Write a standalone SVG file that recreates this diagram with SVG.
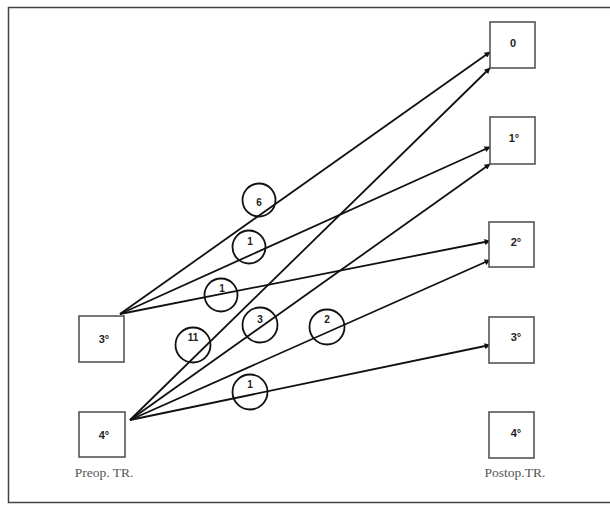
<svg xmlns="http://www.w3.org/2000/svg" width="610" height="512" viewBox="0 0 610 512">
<style>
.box{fill:#fff;stroke:#555;stroke-width:1.6}
.lbl{font-family:"Liberation Sans",Arial,sans-serif;font-size:11px;font-weight:bold;fill:#222;text-anchor:middle}
.cap{font-family:"Liberation Serif","Times New Roman",serif;font-size:13.5px;fill:#555;text-anchor:middle}
.edge{stroke:#111;stroke-width:1.8;fill:none;marker-end:url(#ah)}
.c{fill:none;stroke:#111;stroke-width:1.8}
.cl{font-family:"Liberation Sans",Arial,sans-serif;font-size:10px;font-weight:bold;fill:#222;text-anchor:middle}
</style>
<defs>
<marker id="ah" viewBox="0 0 10 10" refX="9" refY="5" markerWidth="8" markerHeight="6" orient="auto" markerUnits="userSpaceOnUse">
<path d="M0,0 L10,5 L0,10 z" fill="#111"/>
</marker>
</defs>
<rect width="610" height="512" fill="#fff"/>
<path d="M614,7.5 H8.5 V502.5 H614" fill="none" stroke="#444" stroke-width="1.5"/>
<g id="connectors">
<line class="edge" x1="120" y1="314" x2="490" y2="52"/>
<line class="edge" x1="120" y1="314" x2="490" y2="147"/>
<line class="edge" x1="120" y1="314" x2="490" y2="241"/>
<line class="edge" x1="130" y1="420" x2="490" y2="68"/>
<line class="edge" x1="130" y1="420" x2="490" y2="164"/>
<line class="edge" x1="130" y1="420" x2="490" y2="260"/>
<line class="edge" x1="130" y1="420" x2="490" y2="345"/>
<g id="counts">
<circle class="c" cx="259" cy="200" r="16.5"/><text class="cl" x="259" y="206">6</text>
<circle class="c" cx="249" cy="247" r="16.5"/><text class="cl" x="250" y="245">1</text>
<circle class="c" cx="221" cy="295" r="16.5"/><text class="cl" x="222" y="292">1</text>
<circle class="c" cx="193" cy="345" r="17.5"/><text class="cl" x="193" y="341">11</text>
<circle class="c" cx="260" cy="325" r="17.5"/><text class="cl" x="260" y="323">3</text>
<circle class="c" cx="327" cy="327" r="17.5"/><text class="cl" x="327" y="323">2</text>
<circle class="c" cx="250" cy="392" r="17.5"/><text class="cl" x="250" y="388">1</text>
</g>
</g>
<g id="pre3"><rect class="box" x="79" y="316" width="45" height="46"/><text class="lbl" x="104" y="343">3°</text></g>
<g id="pre4"><rect class="box" x="79" y="412" width="46" height="45"/><text class="lbl" x="104" y="439">4°</text></g>
<g id="post0"><rect class="box" x="490" y="22" width="45" height="46"/><text class="lbl" x="513" y="47">0</text></g>
<g id="post1"><rect class="box" x="490" y="117" width="45" height="47"/><text class="lbl" x="514" y="142">1°</text></g>
<g id="post2"><rect class="box" x="489" y="222" width="45" height="45"/><text class="lbl" x="516" y="246">2°</text></g>
<g id="post3"><rect class="box" x="489" y="317" width="45" height="46"/><text class="lbl" x="516" y="341">3°</text></g>
<g id="post4"><rect class="box" x="489" y="412" width="45" height="46"/><text class="lbl" x="516" y="437">4°</text></g>
<text class="cap" x="104" y="477">Preop. TR.</text>
<text class="cap" x="515" y="477">Postop.TR.</text>
</svg>
